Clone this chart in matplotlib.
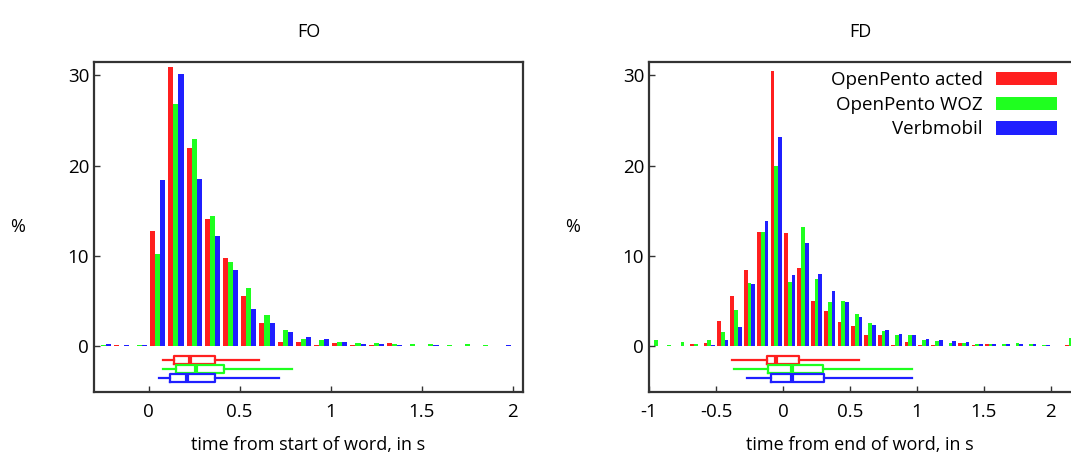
import matplotlib
matplotlib.use("Agg")
import matplotlib.pyplot as plt
import numpy as np

plt.rcParams['font.family'] = ['Open Sans', 'DejaVu Sans']
plt.rcParams['font.size'] = 13

series = ["OpenPento acted", "OpenPento WOZ", "Verbmobil"]
colors = ["#ff1f1f", "#1fff1f", "#1f1fff"]

# FO: bins of 0.1 s, starting at -0.3
fo_bins = np.round(np.arange(-0.3, 1.95, 0.1), 2)
fo_acted = [0, 0.2, 0.05, 12.75, 30.9, 21.9, 14.1, 9.8, 5.6, 2.6, 0.5, 0.5,
            0.18, 0.4, 0.18, 0.18, 0.4, 0, 0, 0, 0, 0, 0]
fo_woz = [0.1, 0.05, 0.1, 10.2, 26.75, 22.9, 14.4, 9.3, 6.4, 3.5, 1.84, 0.85,
          0.73, 0.5, 0.4, 0.4, 0.3, 0.3, 0.3, 0.18, 0.3, 0.18, 0.07]
fo_vm = [0.3, 0.2, 0.2, 18.4, 30.1, 18.5, 12.2, 8.45, 4.15, 2.6, 1.6, 1.07,
         0.85, 0.5, 0.3, 0.3, 0.18, 0.07, 0.18, 0.07, 0.07, 0.07, 0.18]

# FD: bins of 0.1 s, starting at -1.0
fd_bins = np.round(np.arange(-1.0, 2.15, 0.1), 2)
fd_acted = [0, 0, 0, 0.3, 0.4, 2.8, 5.6, 8.4, 12.7, 30.5, 12.5, 8.7, 5.0, 3.9,
            2.7, 2.2, 1.3, 1.3, 0.2, 0.5, 0.2, 0.2, 0.07, 0.4, 0.2, 0.3, 0.07,
            0.07, 0.07, 0.07, 0, 0.2]
fd_woz = [0.73, 0.18, 0.5, 0.3, 0.7, 1.6, 4.0, 7.0, 12.6, 19.9, 7.1, 13.2, 7.5,
          4.9, 5.0, 3.6, 2.6, 1.7, 1.2, 1.3, 0.7, 0.6, 0.4, 0.4, 0.3, 0.3, 0.3,
          0.4, 0.3, 0.2, 0, 0.95]
fd_vm = [0.05, 0.05, 0.05, 0.05, 0.2, 0.7, 2.1, 6.9, 13.9, 23.1, 7.9, 11.4, 8.0,
         6.1, 4.9, 3.2, 2.4, 1.8, 1.4, 1.2, 0.85, 0.7, 0.6, 0.5, 0.3, 0.3, 0.3,
         0.3, 0.3, 0.2, 0, 0]

# box plots: min, q1, median, q3, max
fo_box = [[0.077, 0.14, 0.228, 0.363, 0.604],
          [0.077, 0.15, 0.26, 0.413, 0.787],
          [0.057, 0.118, 0.21, 0.363, 0.715]]
fd_box = [[-0.377, -0.121, -0.05, 0.122, 0.567],
          [-0.365, -0.114, 0.07, 0.30, 0.966],
          [-0.266, -0.09, 0.07, 0.31, 0.966]]


def draw_panel(ax, bins, values, boxes, title, xlabel):
    w = 0.028
    for i, (vals, c, name) in enumerate(zip(values, colors, series)):
        ax.bar(bins + 0.008 + w * (i + 0.5), vals, width=w, color=c,
               linewidth=0, label=name)
    stats = []
    for b in boxes:
        stats.append(dict(whislo=b[0], q1=b[1], med=b[2], q3=b[3], whishi=b[4]))
    bp = ax.bxp(stats, positions=[-1.5, -2.5, -3.5], widths=0.8,
                orientation='horizontal', showcaps=False, showfliers=False,
                manage_ticks=False)
    for i, c in enumerate(colors):
        bp['boxes'][i].set(color=c, linewidth=1.6)
        bp['medians'][i].set(color=c, linewidth=3)
        for wl in bp['whiskers'][2 * i:2 * i + 2]:
            wl.set(color=c, linewidth=1.6)
    ax.set_ylim(-5.05, 31.45)
    ax.set_yticks([0, 10, 20, 30])
    ax.set_title(title, fontsize=13, pad=18)
    ax.set_xlabel(xlabel, fontsize=13, labelpad=11)
    ax.tick_params(direction='in', length=4, width=1, color='#333333',
                   labelsize=13.5)
    ax.tick_params(axis='x', pad=8)
    for sp in ax.spines.values():
        sp.set_color('#333333')
        sp.set_linewidth(1.6)


fig = plt.figure(figsize=(10.71, 4.59), dpi=100)
ax1 = fig.add_axes([94 / 1071, 67 / 459, 429 / 1071, 330 / 459])
ax2 = fig.add_axes([649 / 1071, 67 / 459, 422 / 1071, 330 / 459])

draw_panel(ax1, fo_bins, [fo_acted, fo_woz, fo_vm], fo_box, "FO",
           "time from start of word, in s")
ax1.set_xlim(-0.3, 2.056)
ax1.set_xticks([0, 0.5, 1, 1.5, 2])
ax1.set_xticklabels(["0", "0.5", "1", "1.5", "2"])

draw_panel(ax2, fd_bins, [fd_acted, fd_woz, fd_vm], fd_box, "FD",
           "time from end of word, in s")
ax2.set_xlim(-1, 2.15)
ax2.set_xticks([-1, -0.5, 0, 0.5, 1, 1.5, 2])
ax2.set_xticklabels(["-1", "-0.5", "0", "0.5", "1", "1.5", "2"])
ax2.spines['right'].set_visible(False)

for ax in (ax1, ax2):
    ax.set_ylabel("%", rotation=0, fontsize=13, labelpad=36, va='center')

ax2.legend(loc='upper right', bbox_to_anchor=(0.99, 1.0), frameon=False,
           markerfirst=False, handlelength=3.3, handleheight=0.7,
           labelspacing=0.35, fontsize=13.5, borderaxespad=0.1,
           handletextpad=0.7)

fig.savefig("out.png", dpi=100)
